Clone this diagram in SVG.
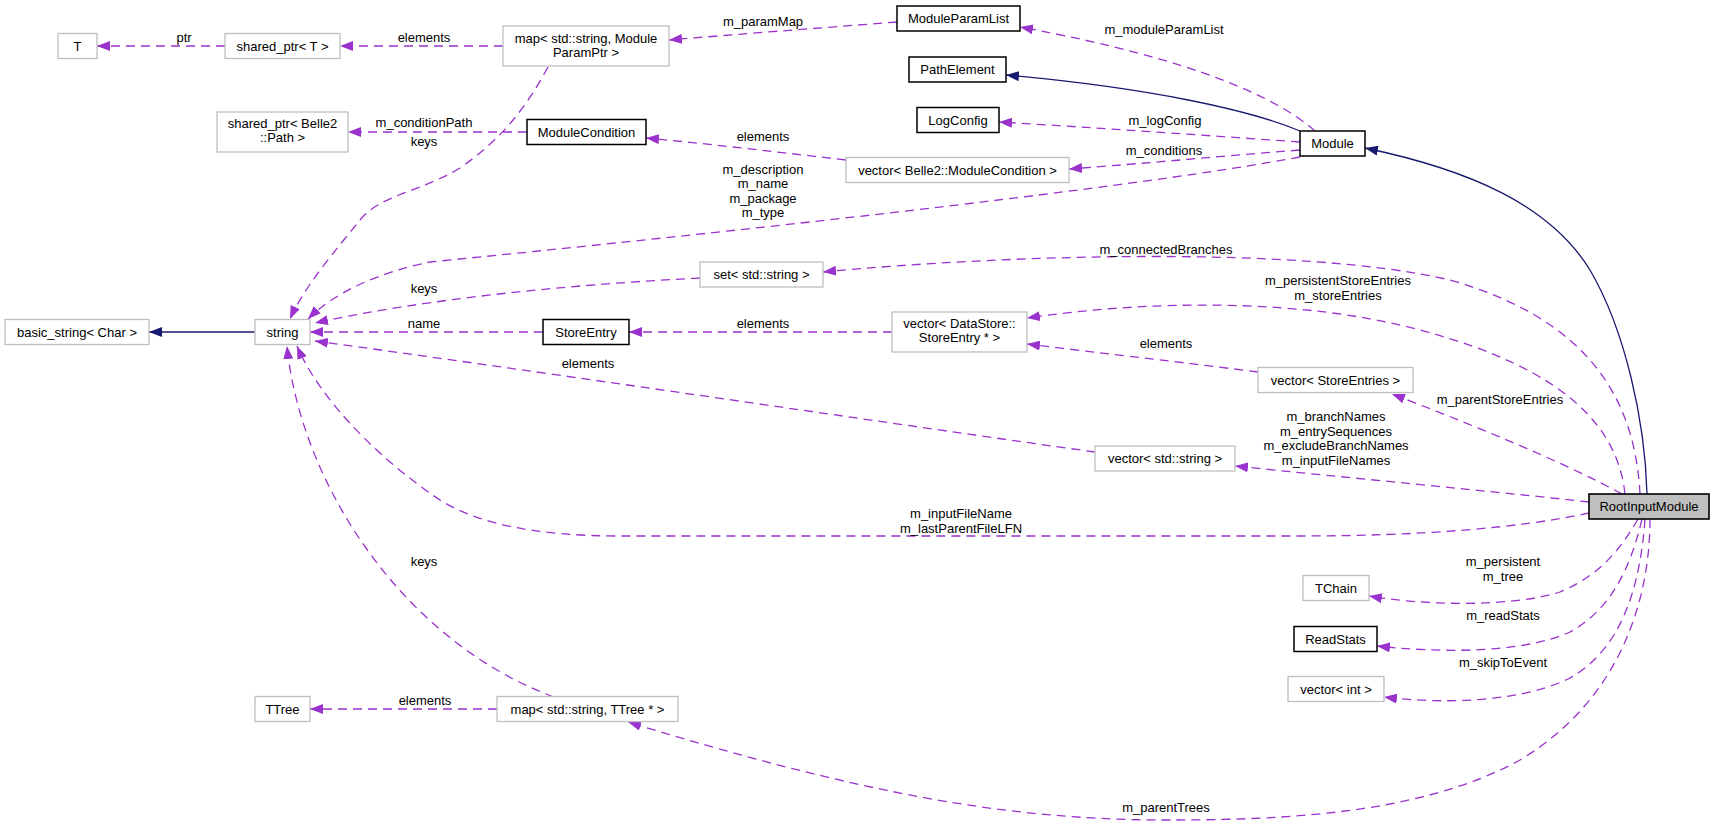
<svg xmlns="http://www.w3.org/2000/svg" width="1715" height="826" viewBox="0 0 1715 826">
<style>
text{font-family:"Liberation Sans",Arial,Helvetica,sans-serif;font-size:13px;fill:#000;text-anchor:middle}
.node rect{fill:#fff;stroke:#bfbfbf;stroke-width:1.3}
.node.doc rect{stroke:#000;stroke-width:1.5}
.node.main rect{fill:#bfbfbf;stroke:#000;stroke-width:1.6}
.edges path{fill:none;stroke:#9a32cd;stroke-width:1.3;stroke-dasharray:9,6;marker-end:url(#ap)}
.edges path.inh{stroke:#191970;stroke-dasharray:none;marker-end:url(#an)}
</style>
<defs>
<marker id="ap" viewBox="0 0 13 10" refX="13" refY="5" markerWidth="13" markerHeight="10" markerUnits="userSpaceOnUse" orient="auto"><path d="M0,0 L13,5 L0,10 z" fill="#9a32cd"/></marker>
<marker id="an" viewBox="0 0 13 10" refX="13" refY="5" markerWidth="13" markerHeight="10" markerUnits="userSpaceOnUse" orient="auto"><path d="M0,0 L13,5 L0,10 z" fill="#191970"/></marker>
</defs>
<rect width="1715" height="826" fill="#fff"/>
<g id="connectors" class="edges">
<path d="M225,46 L97,46"/>
<path d="M503,46 L340,46"/>
<path d="M897,22 C820,28 740,34 669,40"/>
<path d="M1315,131 C1280,100 1200,60 1020,27"/>
<path class="inh" d="M1300,131 C1250,110 1150,88 1006,75"/>
<path d="M1300,142 C1200,135 1100,128 999,122"/>
<path d="M1300,150 C1200,158 1150,163 1069,169"/>
<path d="M846,160 C760,150 700,143 646,138"/>
<path d="M527,132 L348,132"/>
<path d="M548,67 C525,110 500,140 460,168 C420,192 380,195 360,220 C340,245 305,285 290,319"/>
<path d="M1300,157 C1150,185 800,225 430,262 C380,272 335,292 308,319"/>
<path d="M700,278 C560,285 420,300 315,323"/>
<path d="M543,332 L310,332"/>
<path d="M1095,452 C900,425 600,380 315,341"/>
<path d="M892,332 L629,332"/>
<path d="M1258,372 C1180,362 1100,353 1027,344"/>
<path d="M1640,494 C1635,400 1590,320 1450,280 C1300,245 1000,255 823,272"/>
<path d="M1625,494 C1618,430 1570,370 1420,330 C1300,298 1150,300 1027,318"/>
<path d="M1622,494 C1560,460 1460,420 1392,394"/>
<path d="M1589,502 C1500,492 1350,478 1235,466"/>
<path d="M1589,513 C1520,528 1420,536 1300,536 L620,536 C540,536 480,525 440,500 C380,460 320,400 297,346"/>
<path d="M1638,519 C1620,550 1600,575 1560,592 C1510,608 1420,605 1369,596"/>
<path d="M1642,519 C1630,570 1610,610 1570,632 C1520,655 1430,652 1377,646"/>
<path d="M1645,519 C1640,590 1620,650 1570,678 C1520,703 1440,704 1384,697"/>
<path d="M1650,519 C1650,600 1620,700 1520,760 C1420,815 1280,820 1166,820 C1000,820 850,790 628,722"/>
<path d="M554,697 C400,640 300,480 287,346"/>
<path d="M497,709 L310,709"/>
<path class="inh" d="M255,332 L149,332"/>
<path class="inh" d="M1647,494 C1645,420 1625,330 1590,270 C1550,205 1470,170 1365,148"/>
<g id="edge-labels">
<text x="184" y="42">ptr</text>
<text x="424" y="42">elements</text>
<text x="763" y="26">m_paramMap</text>
<text x="1164" y="34">m_moduleParamList</text>
<text x="1165" y="125">m_logConfig</text>
<text x="1164" y="155">m_conditions</text>
<text x="763" y="141">elements</text>
<text x="424" y="127">m_conditionPath</text>
<text x="424" y="146">keys</text>
<text x="763" y="173.5">m_description</text>
<text x="763" y="188">m_name</text>
<text x="763" y="202.5">m_package</text>
<text x="763" y="217">m_type</text>
<text x="1166" y="254">m_connectedBranches</text>
<text x="1338" y="285">m_persistentStoreEntries</text>
<text x="1338" y="299.5">m_storeEntries</text>
<text x="424" y="293">keys</text>
<text x="424" y="328">name</text>
<text x="763" y="328">elements</text>
<text x="1166" y="348">elements</text>
<text x="588" y="368">elements</text>
<text x="1500" y="404">m_parentStoreEntries</text>
<text x="1336" y="421">m_branchNames</text>
<text x="1336" y="435.5">m_entrySequences</text>
<text x="1336" y="450">m_excludeBranchNames</text>
<text x="1336" y="464.5">m_inputFileNames</text>
<text x="961" y="518">m_inputFileName</text>
<text x="961" y="532.5">m_lastParentFileLFN</text>
<text x="424" y="566">keys</text>
<text x="1503" y="566">m_persistent</text>
<text x="1503" y="580.5">m_tree</text>
<text x="1503" y="620">m_readStats</text>
<text x="1503" y="667">m_skipToEvent</text>
<text x="425" y="705">elements</text>
<text x="1166" y="812">m_parentTrees</text>
</g>
</g>
<g id="node-T" class="node"><rect x="58" y="33.5" width="39" height="25"/><text x="77.5" y="50.5">T</text></g>
<g id="node-shared_ptr_T" class="node"><rect x="225" y="33.5" width="115" height="25"/><text x="282.5" y="50.5">shared_ptr&lt; T &gt;</text></g>
<g id="node-map_ModuleParamPtr" class="node"><rect x="503" y="26" width="166" height="40"/><text x="586" y="43">map&lt; std::string, Module</text><text x="586" y="57">ParamPtr &gt;</text></g>
<g id="node-ModuleParamList" class="node doc"><rect x="897" y="6" width="123" height="25"/><text x="958.5" y="23">ModuleParamList</text></g>
<g id="node-PathElement" class="node doc"><rect x="909" y="57" width="97" height="25"/><text x="957.5" y="74">PathElement</text></g>
<g id="node-LogConfig" class="node doc"><rect x="917" y="107.5" width="82" height="25"/><text x="958" y="124.5">LogConfig</text></g>
<g id="node-Module" class="node doc"><rect x="1300" y="131" width="65" height="25"/><text x="1332.5" y="148">Module</text></g>
<g id="node-shared_ptr_Path" class="node"><rect x="217" y="112" width="131" height="40"/><text x="282.5" y="128">shared_ptr&lt; Belle2</text><text x="282.5" y="142">::Path &gt;</text></g>
<g id="node-ModuleCondition" class="node doc"><rect x="527" y="119.5" width="119" height="25"/><text x="586.5" y="136.5">ModuleCondition</text></g>
<g id="node-vector_ModuleCondition" class="node"><rect x="846" y="157.5" width="223" height="25"/><text x="957.5" y="174.5">vector&lt; Belle2::ModuleCondition &gt;</text></g>
<g id="node-set_string" class="node"><rect x="700" y="262" width="123" height="25"/><text x="761.5" y="279">set&lt; std::string &gt;</text></g>
<g id="node-basic_string" class="node"><rect x="5" y="319.5" width="144" height="25"/><text x="77" y="336.5">basic_string&lt; Char &gt;</text></g>
<g id="node-string" class="node"><rect x="255" y="319.5" width="55" height="25"/><text x="282.5" y="336.5">string</text></g>
<g id="node-StoreEntry" class="node doc"><rect x="543" y="319.5" width="86" height="25"/><text x="586" y="336.5">StoreEntry</text></g>
<g id="node-vector_StoreEntryPtr" class="node"><rect x="892" y="312" width="135" height="40"/><text x="959.5" y="328">vector&lt; DataStore::</text><text x="959.5" y="342">StoreEntry * &gt;</text></g>
<g id="node-vector_StoreEntries" class="node"><rect x="1258" y="367.5" width="155" height="25"/><text x="1335.5" y="384.5">vector&lt; StoreEntries &gt;</text></g>
<g id="node-vector_string" class="node"><rect x="1095" y="446" width="140" height="25"/><text x="1165" y="463">vector&lt; std::string &gt;</text></g>
<g id="node-RootInputModule" class="node main"><rect x="1589" y="494" width="120" height="25"/><text x="1649" y="511">RootInputModule</text></g>
<g id="node-TChain" class="node"><rect x="1303" y="575.5" width="66" height="25"/><text x="1336" y="592.5">TChain</text></g>
<g id="node-ReadStats" class="node doc"><rect x="1294" y="626.5" width="83" height="25"/><text x="1335.5" y="643.5">ReadStats</text></g>
<g id="node-vector_int" class="node"><rect x="1288" y="676.5" width="96" height="25"/><text x="1336" y="693.5">vector&lt; int &gt;</text></g>
<g id="node-TTree" class="node"><rect x="255" y="696.5" width="55" height="25"/><text x="282.5" y="713.5">TTree</text></g>
<g id="node-map_TTree" class="node"><rect x="497" y="696.5" width="181" height="25"/><text x="587.5" y="713.5">map&lt; std::string, TTree * &gt;</text></g>
</svg>
